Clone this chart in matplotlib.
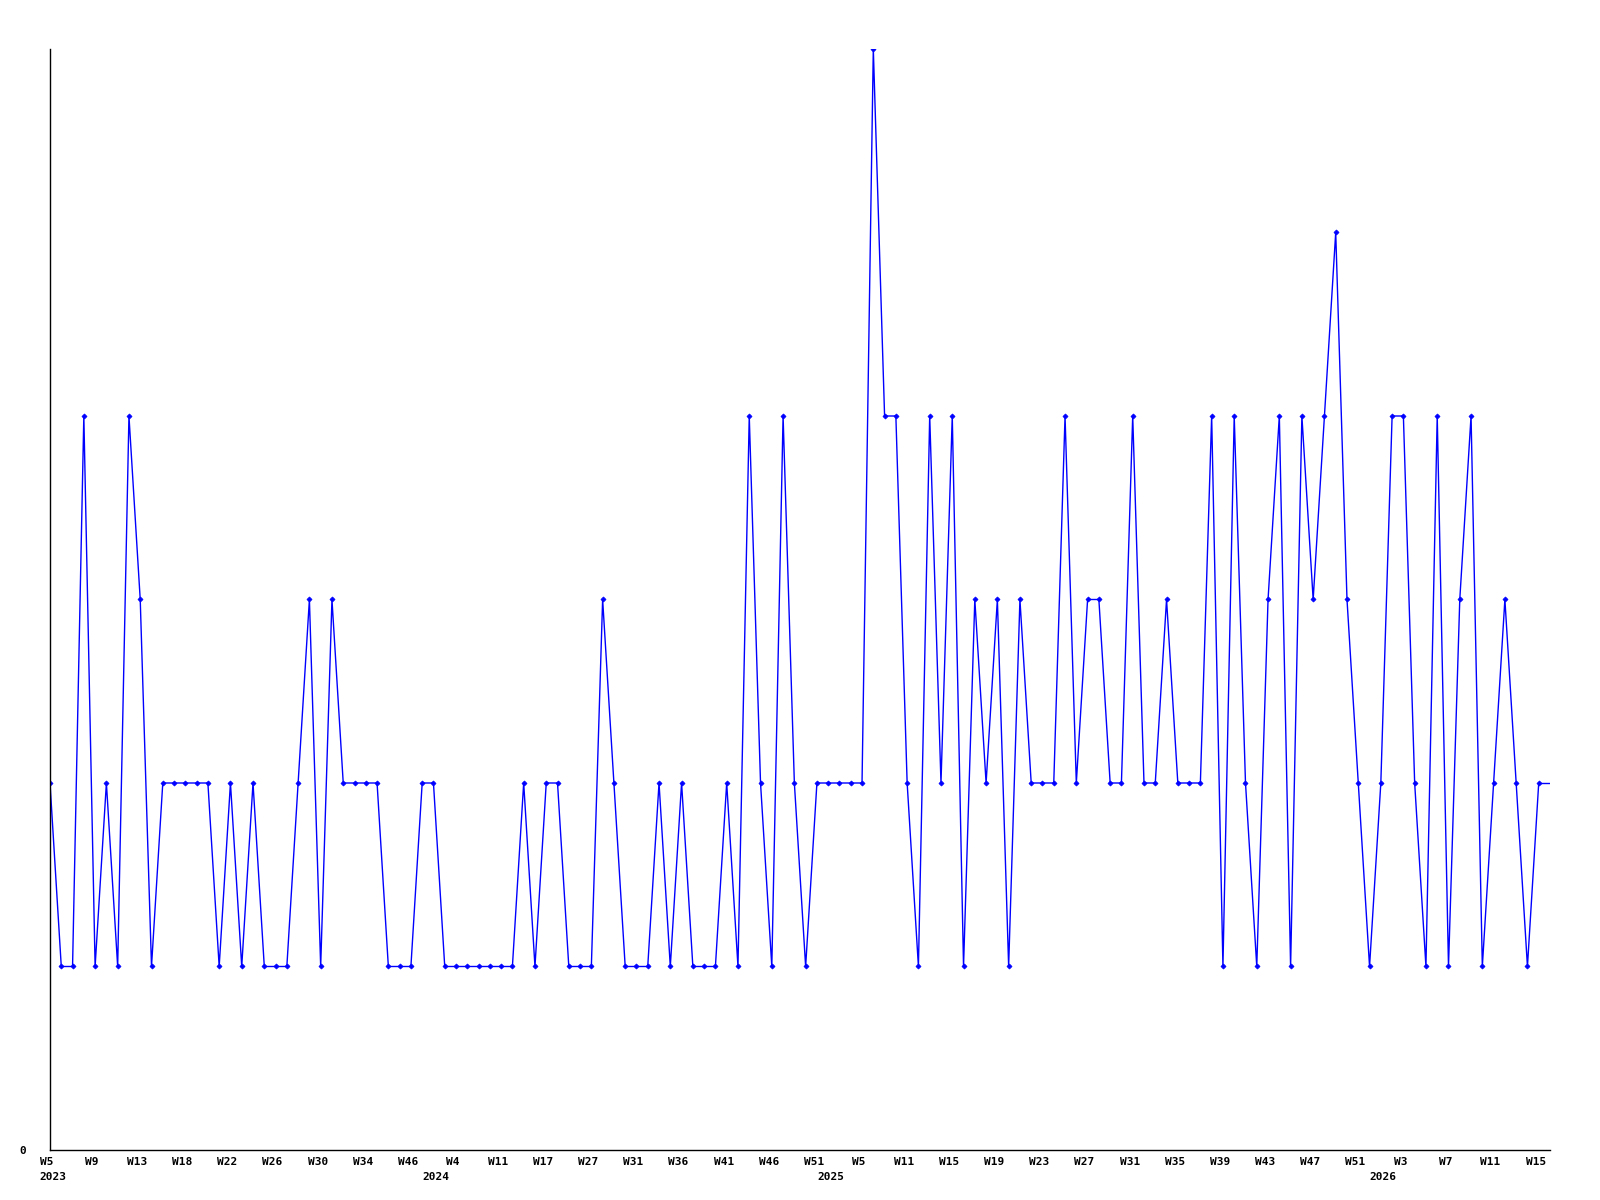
import matplotlib
matplotlib.use("Agg")
import matplotlib.pyplot as plt
import matplotlib.transforms as mtransforms
import numpy as np

# weekly values, one per point (133 weeks)
values = [
    2, 1, 1, 4, 1, 2, 1, 4, 3, 1,
    2, 2, 2, 2, 2, 1, 2, 1, 2, 1,
    1, 1, 2, 3, 1, 3, 2, 2, 2, 2,
    1, 1, 1, 2, 2, 1, 1, 1, 1, 1,
    1, 1, 2, 1, 2, 2, 1, 1, 1, 3,
    2, 1, 1, 1, 2, 1, 2, 1, 1, 1,
    2, 1, 4, 2, 1, 4, 2, 1, 2, 2,
    2, 2, 2, 6, 4, 4, 2, 1, 4, 2,
    4, 1, 3, 2, 3, 1, 3, 2, 2, 2,
    4, 2, 3, 3, 2, 2, 4, 2, 2, 3,
    2, 2, 2, 4, 1, 4, 2, 1, 3, 4,
    1, 4, 3, 4, 5, 3, 2, 1, 2, 4,
    4, 2, 1, 4, 1, 3, 4, 1, 2, 3,
    2, 1, 2,
]

# one label every 4th week
week_labels = [
    "W5", "W9", "W13", "W18", "W22", "W26", "W30", "W34", "W46", "W4",
    "W11", "W17", "W27", "W31", "W36", "W41", "W46", "W51", "W5", "W11",
    "W15", "W19", "W23", "W27", "W31", "W35", "W39", "W43", "W47", "W51",
    "W3", "W7", "W11", "W15",
]
label_step = 4

# first point of each year
year_start = {0: "2023", 34: "2024", 69: "2025", 118: "2026"}

blue = "#0000ff"
font = "DejaVu Sans Mono"

fig = plt.figure(figsize=(16, 12), dpi=100)
ax = fig.add_axes([0.03125, 0.04167, 0.9375, 0.9175])

x = np.arange(len(values))
ax.plot(x, values, color=blue, linewidth=1, marker="D", markersize=2.6,
        markeredgewidth=0.5)
# line runs on flat to the end of the axis
x_end = len(values)
ax.plot([x[-1], x_end], [values[-1], values[-1]], color=blue, linewidth=1)

ax.set_xlim(0, x_end)
ax.set_ylim(0, max(values))

for side in ["top", "right"]:
    ax.spines[side].set_visible(False)
for side in ["left", "bottom"]:
    ax.spines[side].set_color("black")
    ax.spines[side].set_linewidth(1)

ax.set_xticks(x[::label_step])
ax.set_xticklabels(week_labels, fontfamily=font, fontweight="bold", fontsize=8)
ax.tick_params(axis="x", length=0, pad=5)
shift = mtransforms.ScaledTranslation(-3 / 100, 0, fig.dpi_scale_trans)
for lbl in ax.get_xticklabels():
    lbl.set_transform(lbl.get_transform() + shift)

ax.set_yticks([0])
ax.set_yticklabels(["0"], fontfamily=font, fontweight="bold", fontsize=8)
ax.tick_params(axis="y", length=0, pad=17)

for i, yr in year_start.items():
    ax.annotate(yr, xy=(i, 0), xycoords=("data", "axes fraction"),
                xytext=(-8, -16), textcoords="offset points",
                ha="left", va="top", fontfamily=font, fontweight="bold",
                fontsize=8)

fig.savefig("out.png", dpi=100)
